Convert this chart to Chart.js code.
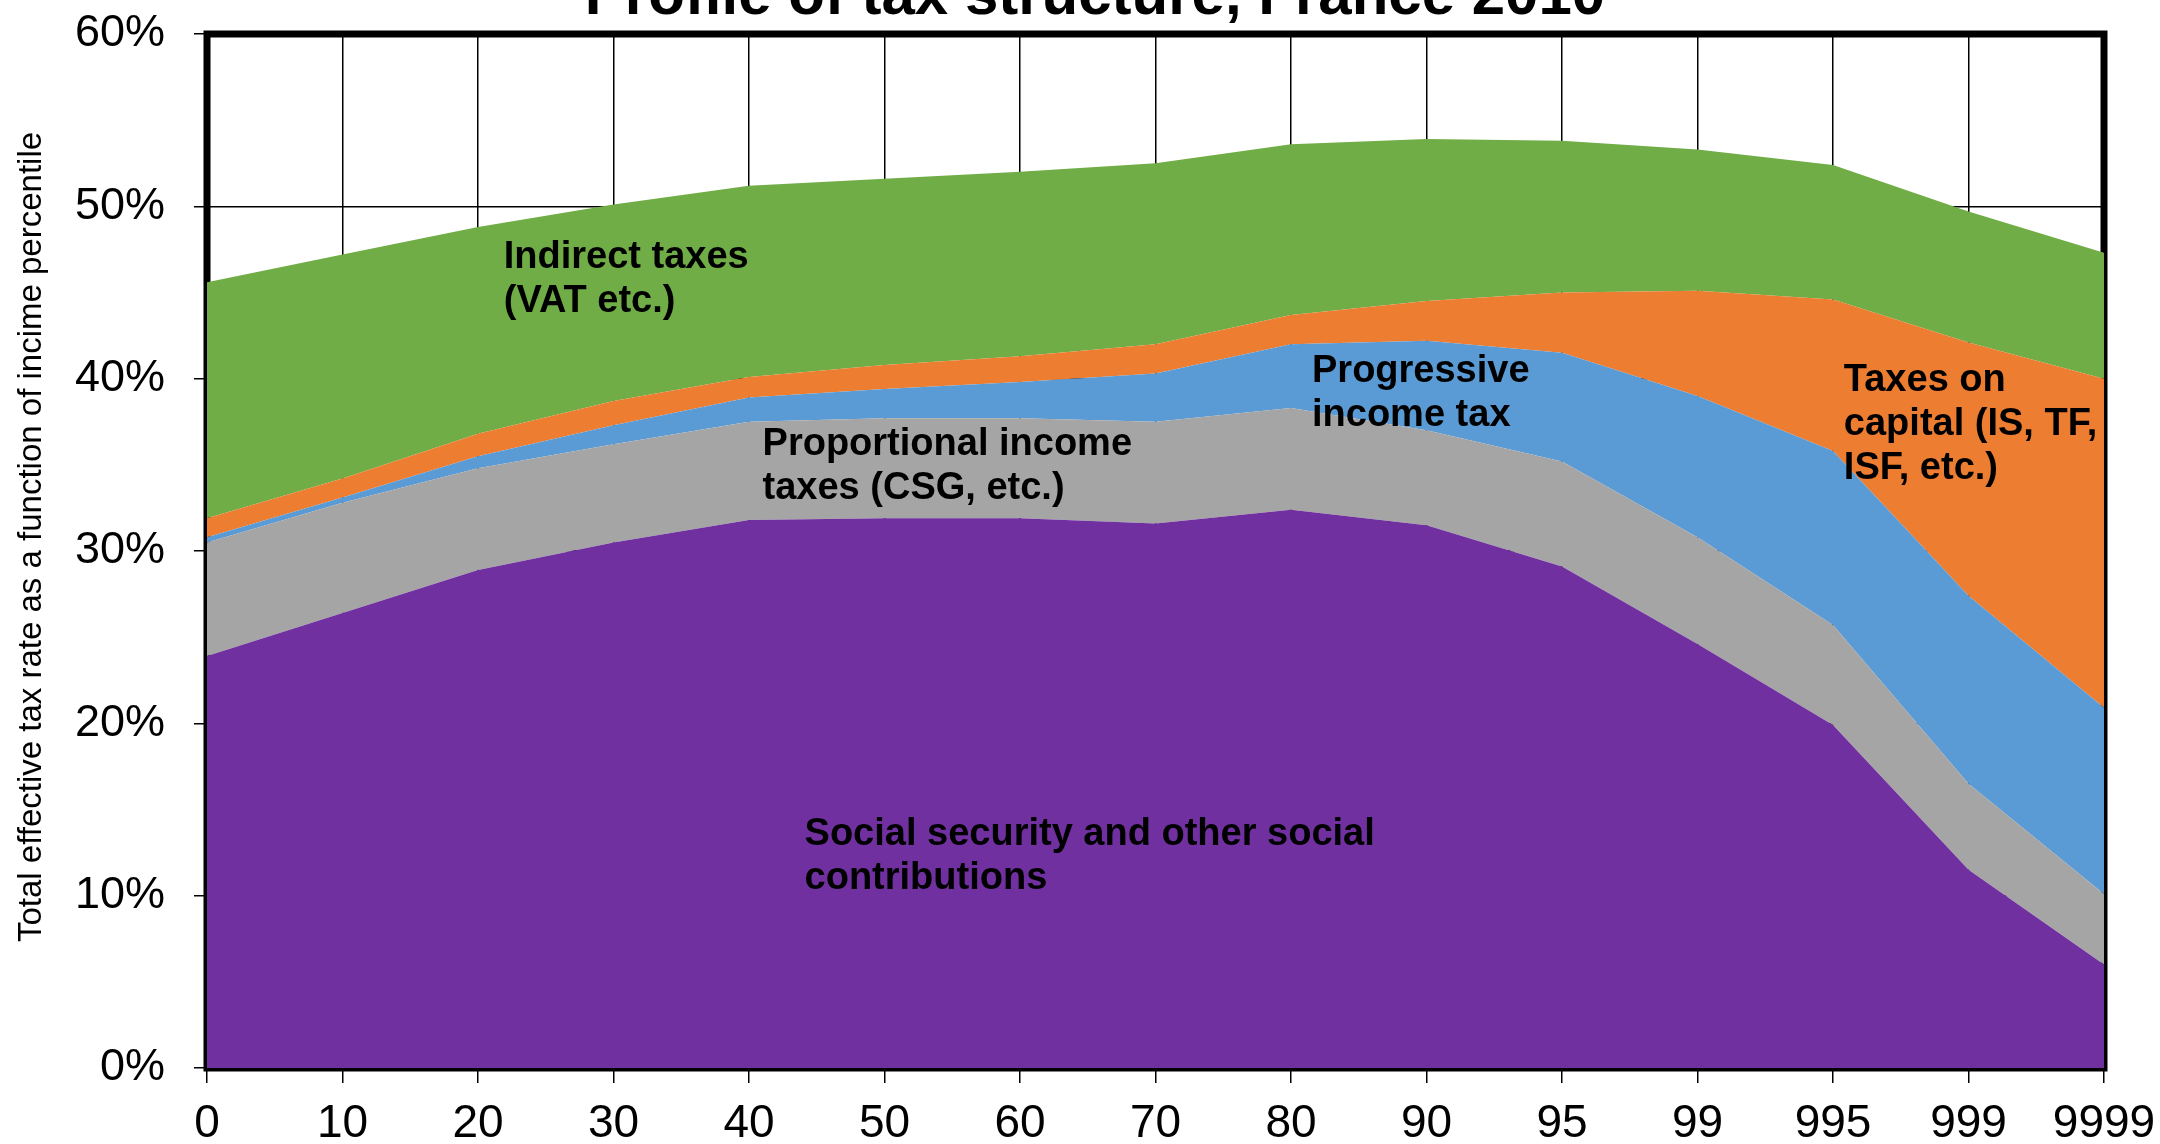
<!DOCTYPE html>
<html>
<head>
<meta charset="utf-8">
<title>Profile of tax structure, France 2010</title>
<script src="https://cdn.jsdelivr.net/npm/chart.js@4.4.1/dist/chart.umd.min.js"></script>
<style>
    html, body { margin: 0; padding: 0; background: #fff; }
    #wrap { width: 2160px; height: 1144px; position: relative; }
</style>
</head>
<body>
<div id="wrap"><canvas id="tax-chart"></canvas></div>
<script>
// Income percentiles (x axis)
const percentiles = ['0', '10', '20', '30', '40', '50', '60', '70', '80', '90', '95', '99', '995', '999', '9999'];

// Tax components, % of income (stacked bottom to top)
const socialContrib = [23.9, 26.4, 28.9, 30.5, 31.8, 31.9, 31.9, 31.6, 32.4, 31.5, 29.1, 24.6, 19.9, 11.5, 6.0];
const proportionalTax = [6.6, 6.4, 5.9, 5.7, 5.7, 5.8, 5.8, 5.9, 5.9, 5.5, 6.1, 6.2, 5.8, 5.0, 4.1];
const progressiveTax = [0.3, 0.3, 0.7, 1.1, 1.4, 1.7, 2.1, 2.8, 3.7, 5.2, 6.3, 8.2, 10.1, 10.9, 10.8];
const capitalTax = [1.1, 1.1, 1.3, 1.4, 1.2, 1.4, 1.5, 1.7, 1.7, 2.3, 3.5, 6.1, 8.8, 14.7, 19.1];
const indirectTax = [13.7, 13.0, 12.0, 11.4, 11.1, 10.8, 10.7, 10.5, 9.9, 9.4, 8.8, 8.2, 7.8, 7.6, 7.3];

// Y ticks
const yMin = 0;
const yMax = 60;
const yStep = 10;

const FONT = "'Liberation Sans', Arial, sans-serif";

// Text labels inside the areas: [category index, y value] of the first line
const areaLabels = [
    { lines: ['Indirect taxes', '(VAT etc.)'], at: [2.19, 47.05] },
    { lines: ['Proportional income', 'taxes (CSG, etc.)'], at: [4.10, 36.17] },
    { lines: ['Progressive', 'income tax'], at: [8.155, 40.42] },
    { lines: ['Taxes on', 'capital (IS, TF,', 'ISF, etc.)'], at: [12.08, 39.88] },
    { lines: ['Social security and other social', 'contributions'], at: [4.41, 13.53] }
];

// Frame around plot area (drawn under the fills, like the original)
const framePlugin = {
    id: 'frame',
    beforeDatasetsDraw(chart) {
        const { ctx, chartArea: a } = chart;
        ctx.save();
        ctx.strokeStyle = '#000';
        ctx.lineWidth = 7;
        ctx.strokeRect(a.left, a.top, a.right - a.left, a.bottom - a.top);
        ctx.restore();
    }
};

// Labels, title, y axis title
const textPlugin = {
    id: 'texts',
    afterDatasetsDraw(chart) {
        const { ctx, chartArea: a } = chart;
        const xs = chart.scales.x;
        const ys = chart.scales.y;
        ctx.save();
        ctx.beginPath();
        ctx.rect(a.left, 0, a.right - a.left, chart.height);
        ctx.clip();
        ctx.fillStyle = '#000';
        ctx.font = `bold 38px ${FONT}`;
        ctx.textAlign = 'left';
        ctx.textBaseline = 'middle';
        areaLabels.forEach(lbl => {
            const x = xs.getPixelForValue(lbl.at[0]);
            const y = ys.getPixelForValue(lbl.at[1]);
            lbl.lines.forEach((line, i) => ctx.fillText(line, x, y + i * 44));
        });
        ctx.restore();
    },
    afterDraw(chart) {
        const { ctx } = chart;
        ctx.save();
        ctx.fillStyle = '#000';

        // Title, cut off at the top like the source
        ctx.font = `bold 60px ${FONT}`;
        ctx.textAlign = 'center';
        ctx.textBaseline = 'alphabetic';
        ctx.fillText('Profile of tax structure, France 2010', 1095, 14);

        // Y axis title
        ctx.translate(32, 537);
        ctx.rotate(-Math.PI / 2);
        ctx.font = `33px ${FONT}`;
        ctx.textBaseline = 'middle';
        ctx.fillText('Total effective tax rate as a function of incime percentile', 0, 0);
        ctx.restore();
    }
};

function area(label, data, color, fill) {
    return {
        label: label,
        data: data,
        backgroundColor: color,
        borderColor: color,
        borderWidth: 0,
        pointRadius: 0,
        tension: 0,
        fill: fill
    };
}

const chart = new Chart(document.getElementById('tax-chart'), {
    type: 'line',
    data: {
        labels: percentiles,
        datasets: [
            area('Social security and other social contributions', socialContrib, '#7030A0', 'origin'),
            area('Proportional income taxes (CSG, etc.)', proportionalTax, '#A5A5A5', '-1'),
            area('Progressive income tax', progressiveTax, '#5B9BD5', '-1'),
            area('Taxes on capital (IS, TF, ISF, etc.)', capitalTax, '#ED7D31', '-1'),
            area('Indirect taxes (VAT etc.)', indirectTax, '#70AD47', '-1')
        ]
    },
    options: {
        responsive: true,
        maintainAspectRatio: false,
        animation: false,
        layout: { padding: { top: 34, right: 56, left: 0, bottom: 0 } },
        plugins: {
            legend: { display: false },
            tooltip: { enabled: false },
            title: { display: false }
        },
        scales: {
            x: {
                grid: { color: '#000', lineWidth: 1.5, tickLength: 15 },
                border: { display: false },
                ticks: {
                    color: '#000',
                    font: { family: FONT, size: 46 },
                    padding: 14,
                    maxRotation: 0,
                    autoSkip: false
                },
                afterFit(scale) {
                    scale.height = 76;
                    scale.paddingLeft = 0;
                    scale.paddingRight = 0;
                }
            },
            y: {
                stacked: true,
                min: yMin,
                max: yMax,
                grid: { color: '#000', lineWidth: 1.5, tickLength: 13 },
                border: { display: false },
                ticks: {
                    stepSize: yStep,
                    color: '#000',
                    font: { family: FONT, size: 45 },
                    padding: 29,
                    callback: v => v + '%'
                },
                afterFit(scale) {
                    scale.width = 207;
                    scale.paddingTop = 0;
                    scale.paddingBottom = 0;
                }
            }
        }
    },
    plugins: [framePlugin, textPlugin]
});
</script>
</body>
</html>
